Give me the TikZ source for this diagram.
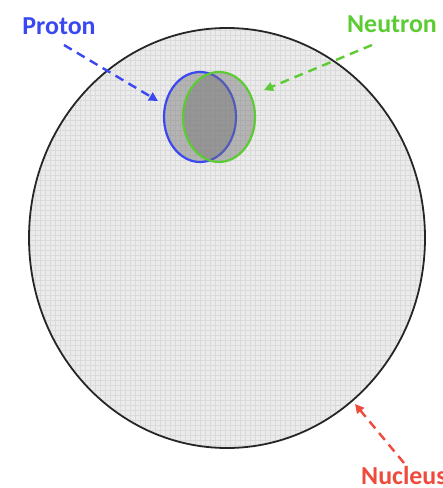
\documentclass[tikz,border=0pt]{standalone}
\usepackage{fontspec}
\usepackage{tikz}
\usepackage{xcolor}
\usetikzlibrary{arrows.meta,positioning,shapes.geometric}
\newfontfamily\labelfont{Carlito}
\definecolor{protblue}{HTML}{3A48F2}
\definecolor{neutgreen}{HTML}{5CCB34}
\definecolor{nucred}{HTML}{EF4B3C}
\definecolor{nucfill}{HTML}{EBEBEB}
\definecolor{nucgrid}{HTML}{DADADA}
\tikzset{
  nucleon/.style={ellipse, inner sep=0pt, minimum width=72bp, minimum height=90bp,
                  line width=2.2bp, fill=black!55, fill opacity=0.45},
  tag/.style={font=\labelfont\bfseries\fontsize{26}{30}\selectfont, inner sep=0pt},
  pointer/.style={-{Triangle[length=9bp,width=9bp]}, line width=2.4bp,
                  dash pattern=on 9bp off 6bp}
}
\begin{document}
\begin{tikzpicture}[x=1bp,y=-1bp]
  \useasboundingbox (0,0) rectangle (443,488);
  \clip (0,0) rectangle (443,488);
  % nucleus with its fine grid
  \fill[nucfill] (227,238) ellipse [x radius=198, y radius=210];
  \begin{scope}
    \clip (227,238) ellipse [x radius=198, y radius=210];
    \draw[nucgrid, line width=0.35bp] (25,25) grid[step=5bp] (430,452);
  \end{scope}
  \node[ellipse, draw=black!85, line width=1.8bp, inner sep=0pt,
        minimum width=396bp, minimum height=420bp] (nucleus) at (227,238) {};
  % nucleons
  \node[nucleon, draw=protblue] (proton) at (200,117) {};
  \node[nucleon, draw=neutgreen] (neutron) at (219,117) {};
  % labels
  \node[tag, text=protblue] (plabel) at (59,26) {Proton};
  \node[tag, text=neutgreen] (nlabel) at (392,24) {Neutron};
  \node[tag, text=nucred, anchor=west] (clabel) at (361,476) {Nucleus};
  % arrows
  \coordinate (ptail) at (64,45);
  \coordinate (phead) at (158,101);
  \coordinate (ntail) at (372,45);
  \coordinate (nhead) at (264,90);
  \coordinate (ctail) at (404,463);
  \coordinate (chead) at (355,404);
  \draw[pointer, protblue] (ptail) -- (phead);
  \draw[pointer, neutgreen] (ntail) -- (nhead);
  \draw[pointer, nucred] (ctail) -- (chead);
\end{tikzpicture}
\end{document}
